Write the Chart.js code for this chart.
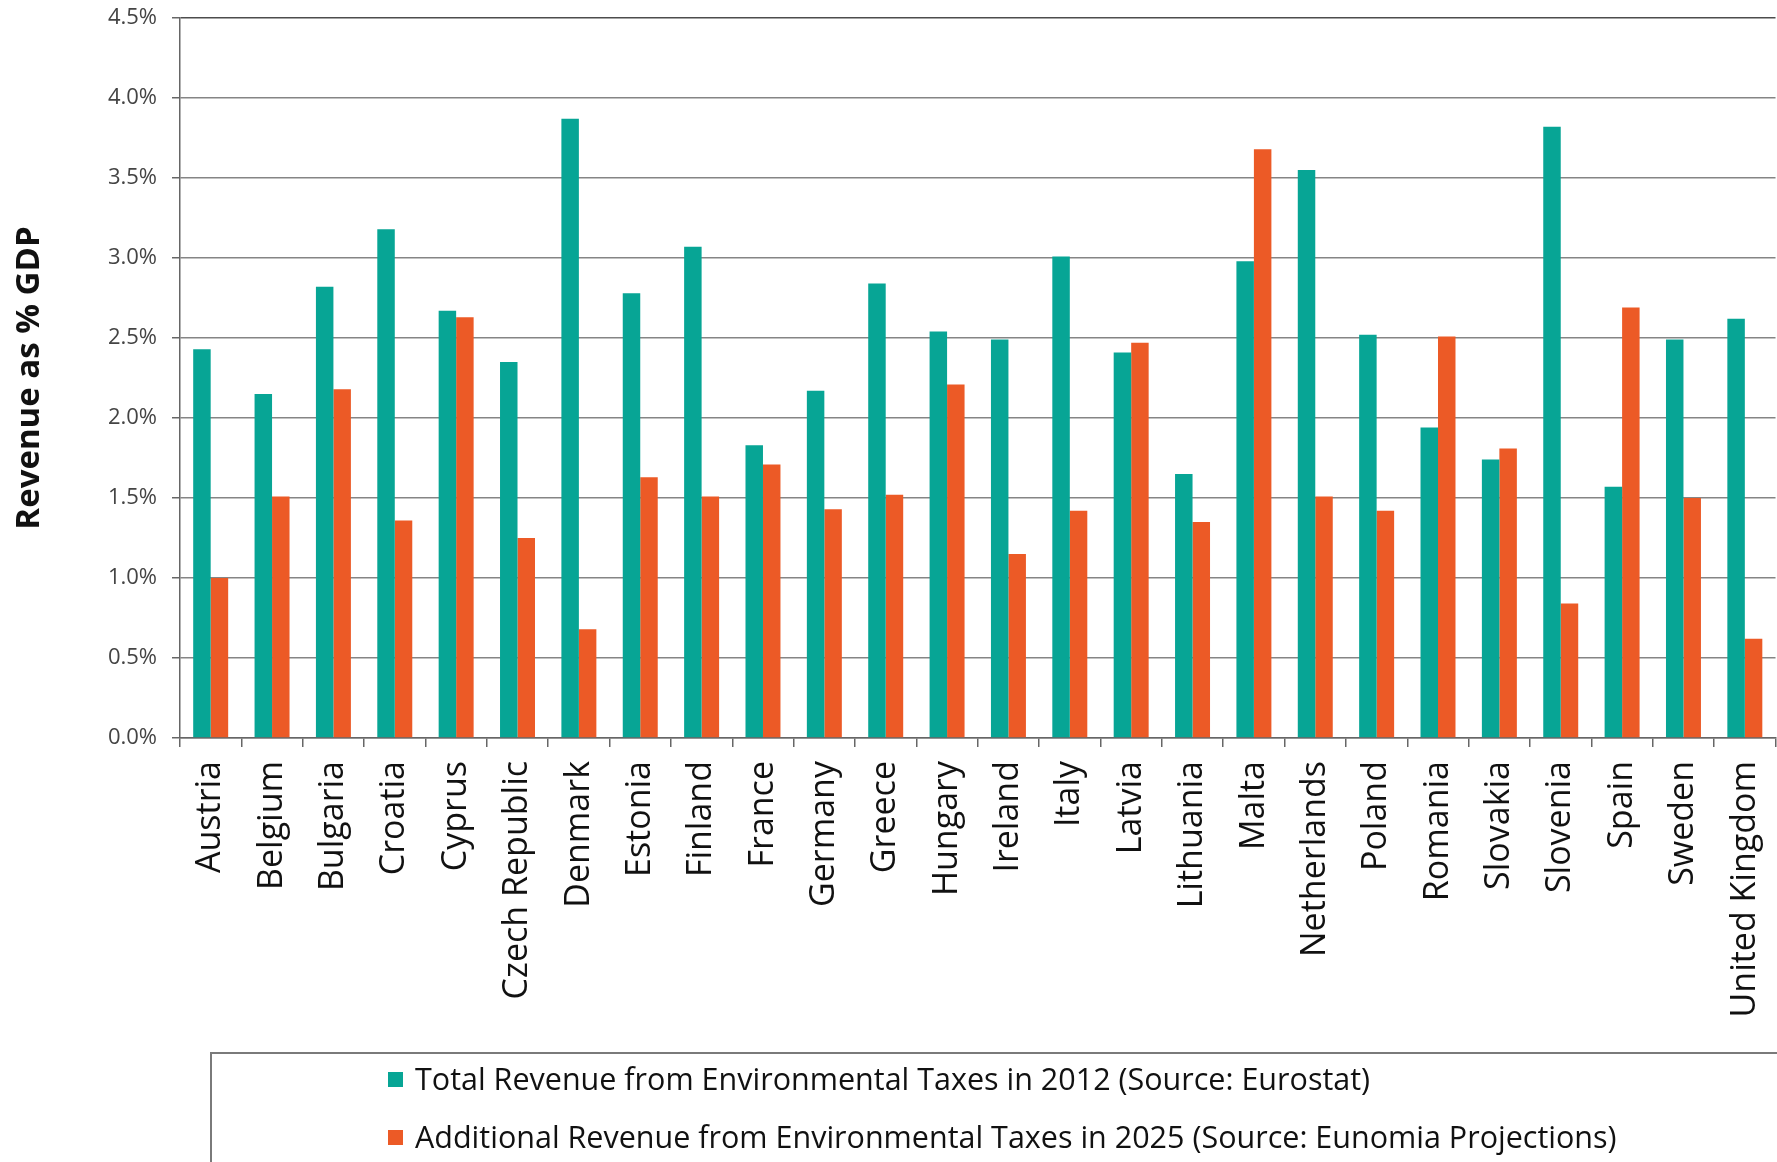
<!DOCTYPE html>
<html>
<head>
<meta charset="utf-8">
<script src="https://cdn.jsdelivr.net/npm/chart.js@4.4.1/dist/chart.umd.min.js"></script>
<style>
  html, body { margin: 0; padding: 0; background: #fff; overflow: hidden; }
  canvas { display: block; }
</style>
</head>
<body>
<canvas id="taxChart" width="1800" height="1162"></canvas>
<script>
var countries = ['Austria', 'Belgium', 'Bulgaria', 'Croatia', 'Cyprus', 'Czech Republic', 'Denmark',
    'Estonia', 'Finland', 'France', 'Germany', 'Greece', 'Hungary', 'Ireland', 'Italy', 'Latvia',
    'Lithuania', 'Malta', 'Netherlands', 'Poland', 'Romania', 'Slovakia', 'Slovenia', 'Spain',
    'Sweden', 'United Kingdom'];
var total2012 = [2.43, 2.15, 2.82, 3.18, 2.67, 2.35, 3.87, 2.78, 3.07, 1.83, 2.17, 2.84, 2.54,
    2.49, 3.01, 2.41, 1.65, 2.98, 3.55, 2.52, 1.94, 1.74, 3.82, 1.57, 2.49, 2.62];
var additional2025 = [1.00, 1.51, 2.18, 1.36, 2.63, 1.25, 0.68, 1.63, 1.51, 1.71, 1.43, 1.52, 2.21,
    1.15, 1.42, 2.47, 1.35, 3.68, 1.51, 1.42, 2.51, 1.81, 0.84, 2.69, 1.50, 0.62];
var yTickLabels = ['0.0%', '0.5%', '1.0%', '1.5%', '2.0%', '2.5%', '3.0%', '3.5%', '4.0%', '4.5%'];
var seriesNames = ['Total Revenue from Environmental Taxes in 2012 (Source: Eurostat)',
    'Additional Revenue from Environmental Taxes in 2025 (Source: Eunomia Projections)'];

var teal = '#07a595';
var orange = '#ec5a26';

// legend in a bordered box under the axis labels
var boxLegend = {
    id: 'boxLegend',
    afterDraw: function(chart) {
        var c = chart.ctx;
        c.save();
        c.strokeStyle = '#7a7a7a';
        c.lineWidth = 2;
        c.strokeRect(211, 1053, 1700, 200);
        c.font = '30.5px "Open Sans"';
        c.textBaseline = 'middle';
        chart.data.datasets.forEach(function(ds, i) {
            var y = 1080 + i * 58;
            c.fillStyle = ds.backgroundColor;
            c.fillRect(388, y - 8, 15, 15);
            c.fillStyle = '#111';
            c.fillText(ds.label, 415, y + 1);
        });
        c.restore();
    }
};

var ctx = document.getElementById('taxChart').getContext('2d');
var taxChart = new Chart(ctx, {
    type: 'bar',
    data: {
        labels: countries,
        datasets: [{
            label: seriesNames[0],
            data: total2012,
            backgroundColor: teal
        }, {
            label: seriesNames[1],
            data: additional2025,
            backgroundColor: orange
        }]
    },
    options: {
        responsive: false,
        animation: false,
        layout: { padding: { top: 18, left: 0, right: 19, bottom: 110 } },
        datasets: { bar: { categoryPercentage: 0.57, barPercentage: 1.0 } },
        plugins: {
            legend: { display: false },
            tooltip: { enabled: false }
        },
        scales: {
            x: {
                grid: { drawOnChartArea: false, drawTicks: true, tickLength: 9, color: '#666', lineWidth: 1.5 },
                border: { color: '#666', width: 1.5 },
                ticks: {
                    autoSkip: false, minRotation: 90, maxRotation: 90, padding: 14,
                    color: '#111', font: { family: 'Open Sans', size: 34 }
                },
                afterFit: function(scale) { scale.height = 314; }
            },
            y: {
                min: 0,
                max: 4.5,
                grid: {
                    color: function(c) { return c.tick && c.tick.value === 4.5 ? '#4d4d4d' : '#858585'; },
                    lineWidth: 1.5,
                    tickLength: 8,
                    tickColor: '#666'
                },
                border: { color: '#666', width: 1.5 },
                ticks: {
                    stepSize: 0.5, padding: 15, color: '#444',
                    font: { family: 'Open Sans', size: 22 },
                    callback: function(v, i) { return yTickLabels[i]; }
                },
                title: {
                    display: true, text: 'Revenue as % GDP', color: '#111',
                    font: { family: 'Open Sans', size: 33, weight: 'bold' },
                    padding: { top: 10, bottom: 0 }
                },
                afterFit: function(scale) {
                    scale.width = 180;
                    scale.paddingTop = 0;
                    scale.paddingBottom = 0;
                }
            }
        }
    },
    plugins: [boxLegend]
});
</script>
</body>
</html>
